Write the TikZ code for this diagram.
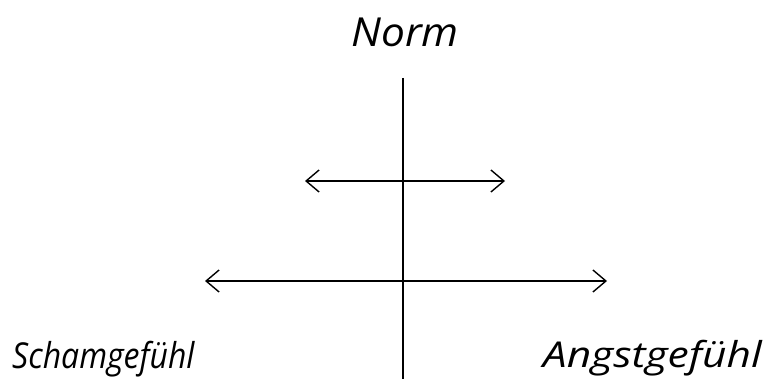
\documentclass[tikz,border=0pt]{standalone}
\usepackage{fontspec}
\setmainfont{Open Sans}
\usetikzlibrary{arrows.meta}
\tikzset{
  lbl/.style={inner sep=0pt, anchor=base, font=\itshape\fontsize{34}{40}\selectfont},
  axis/.style={line width=1.4pt, black},
  dbl/.style={line width=1.4pt, black, {Straight Barb[length=13pt,width=22pt,line width=1.4pt]}-{Straight Barb[length=13pt,width=22pt,line width=1.4pt]}}
}
\begin{document}
\begin{tikzpicture}[x=1pt,y=-1pt]
\useasboundingbox (0,0) rectangle (767,379);
\coordinate (vt) at (403,78);
\coordinate (vb) at (403,379);
\draw[axis] (vt) -- (vb);
\coordinate (a1) at (305,181);
\coordinate (a2) at (505,181);
\draw[dbl] (a1) -- (a2);
\coordinate (b1) at (205,281);
\coordinate (b2) at (607,281);
\draw[dbl] (b1) -- (b2);
\node[lbl, font=\itshape\fontsize{40}{46}\selectfont] (norm) at (405,47) {\scalebox{1.06}[1]{Norm}};
\node[lbl, anchor=base west] (scham) at (12,368) {\scalebox{0.94}[1.05]{Schamgefühl}};
\node[lbl, anchor=base east] (angst) at (762,367) {\scalebox{1.25}[1.05]{Angstgefühl}};
\end{tikzpicture}
\end{document}
